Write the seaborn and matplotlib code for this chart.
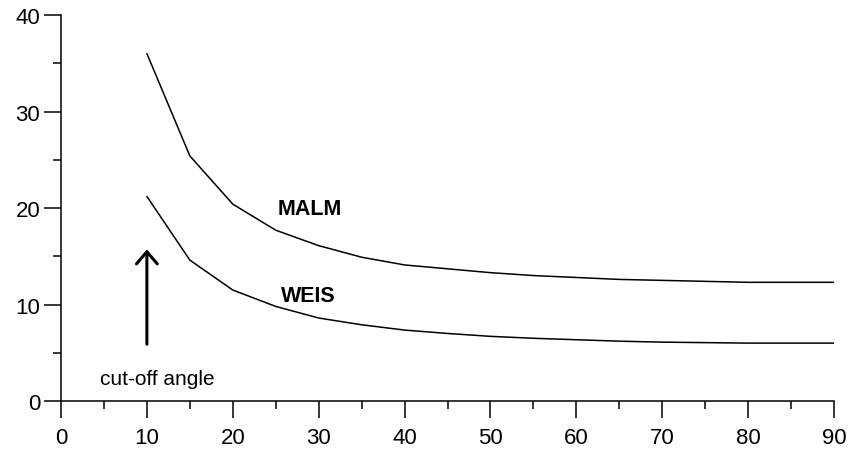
import matplotlib.pyplot as plt
import numpy as np
import pandas as pd
import seaborn as sns

# Angle values (degrees)
angle = [10, 15, 20, 25, 30, 35, 40, 45, 50, 55, 60, 65, 70, 75, 80, 85, 90]

# Curves
malm = [36.0, 25.4, 20.4, 17.7, 16.1, 14.9, 14.1, 13.7, 13.3, 13.0, 12.8, 12.6, 12.5, 12.4, 12.3, 12.3, 12.3]
weis = [21.2, 14.6, 11.5, 9.8, 8.6, 7.9, 7.35, 7.0, 6.7, 6.5, 6.35, 6.2, 6.1, 6.05, 6.0, 6.0, 6.0]

df = pd.DataFrame({
    "angle": angle * 2,
    "value": malm + weis,
    "series": ["MALM"] * len(angle) + ["WEIS"] * len(angle),
})

sns.set_style("ticks", rc={"text.color": "black", "xtick.color": "black",
                           "ytick.color": "black", "axes.edgecolor": "black"})
plt.rcParams["font.family"] = ["Liberation Sans", "DejaVu Sans"]

fig = plt.figure(figsize=(8.59, 4.52), dpi=100)
ax = fig.add_axes([0.071, 0.1106, 0.900, 0.854])

sns.lineplot(data=df, x="angle", y="value", units="series", estimator=None,
             color="black", linewidth=1.1, ax=ax, legend=False)

ax.set_xlim(0, 90)
ax.set_ylim(0, 40)
ax.set_xticks(np.arange(0, 91, 10))
ax.set_xticks(np.arange(5, 90, 10), minor=True)
ax.set_yticks(np.arange(0, 41, 10))
ax.set_yticks(np.arange(5, 40, 10), minor=True)
ax.tick_params(axis="both", which="major", length=12, width=1.1, labelsize=16)
ax.tick_params(axis="both", which="minor", length=6, width=1.1)
ax.tick_params(axis="x", which="major", pad=7)
ax.tick_params(axis="y", which="major", pad=3)
ax.set_xlabel("")
ax.set_ylabel("")
for side in ["top", "right"]:
    ax.spines[side].set_visible(False)
for side in ["left", "bottom"]:
    ax.spines[side].set_linewidth(1.1)

ax.text(29.0, 19.9, "MALM", fontsize=15.5, fontweight="bold", ha="center", va="center")
ax.text(28.8, 10.9, "WEIS", fontsize=15.5, fontweight="bold", ha="center", va="center")
ax.text(11.2, 2.3, "cut-off angle", fontsize=15, ha="center", va="center")
ax.annotate("", xy=(10, 16.0), xytext=(10, 5.6),
            arrowprops=dict(arrowstyle="->,head_length=0.35,head_width=0.3",
                            color="black", lw=2.2, mutation_scale=25))

fig.savefig("out.png", dpi=100)
